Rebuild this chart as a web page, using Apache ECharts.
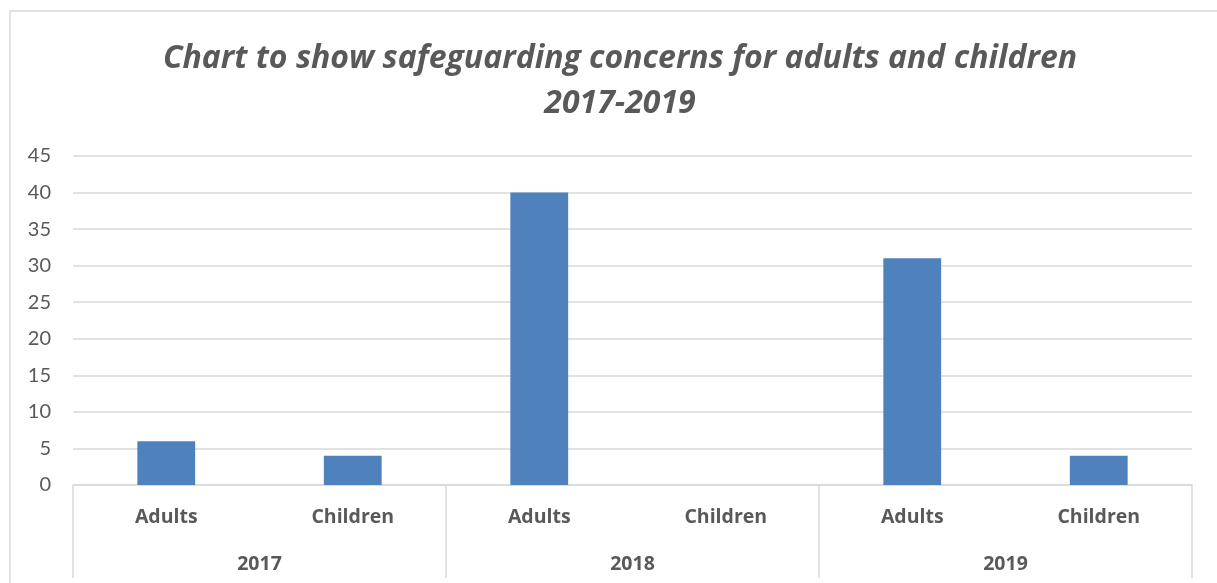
<!DOCTYPE html>
<html>
<head>
<meta charset="utf-8">
<script src="https://cdn.jsdelivr.net/npm/echarts@6/dist/echarts.min.js"></script>
<style>
html,body{margin:0;padding:0;background:#fff;}
#chart{width:1217px;height:583px;}
</style>
</head>
<body>
<div id="chart"></div>
<script>
const titleText = 'Chart to show safeguarding concerns for adults and children\n2017-2019';
const subCategories = ['Adults', 'Children', 'Adults', 'Children', 'Adults', 'Children'];
const years = ['2017', '2018', '2019'];
const values = [6, 4, 40, 0, 31, 4];
const yTicks = { min: 0, max: 45, interval: 5 };

const FONT = 'Lato, "Liberation Sans", sans-serif';
const BOLDFONT = '"Open Sans", Lato, sans-serif';
const chart = echarts.init(document.getElementById('chart'), null, { renderer: 'canvas' });
chart.setOption({
  animation: false,
  backgroundColor: '#ffffff',
  graphic: [{
    type: 'rect', z: -10, silent: true,
    shape: { x: 10, y: 11, width: 1240, height: 620 },
    style: { fill: 'none', stroke: '#d9d9d9', lineWidth: 1.5 }
  }],
  title: {
    text: titleText,
    left: 615, top: 31, textAlign: 'center',
    textStyle: {
      fontFamily: BOLDFONT, fontSize: 32, fontWeight: 'bold', fontStyle: 'italic',
      color: '#595959', lineHeight: 45
    }
  },
  grid: { left: 73, right: 25, top: 156, bottom: 98, containLabel: false },
  xAxis: [{
    type: 'category',
    data: subCategories,
    position: 'bottom',
    axisLine: { show: true, lineStyle: { color: '#d9d9d9', width: 1.5 } },
    axisTick: { show: false },
    axisLabel: { margin: 22, fontFamily: BOLDFONT, fontSize: 19.5, fontWeight: 'bold', color: '#595959' }
  }, {
    type: 'category',
    data: years,
    position: 'bottom',
    axisLine: { show: false },
    axisTick: { show: true, length: 93, lineStyle: { color: '#d9d9d9', width: 1.5 } },
    axisLabel: { margin: 69, fontFamily: BOLDFONT, fontSize: 19.5, fontWeight: 'bold', color: '#595959' }
  }],
  yAxis: {
    type: 'value',
    min: yTicks.min, max: yTicks.max, interval: yTicks.interval,
    axisLine: { show: false },
    axisTick: { show: false },
    splitLine: { lineStyle: { color: '#d9d9d9', width: 1.5 } },
    axisLabel: { margin: 22, fontFamily: FONT, fontSize: 20, color: '#595959' }
  },
  series: [{
    type: 'bar',
    xAxisIndex: 0,
    data: values,
    barWidth: '31%',
    itemStyle: { color: '#4f81bd' }
  }]
});
</script>
</body>
</html>
